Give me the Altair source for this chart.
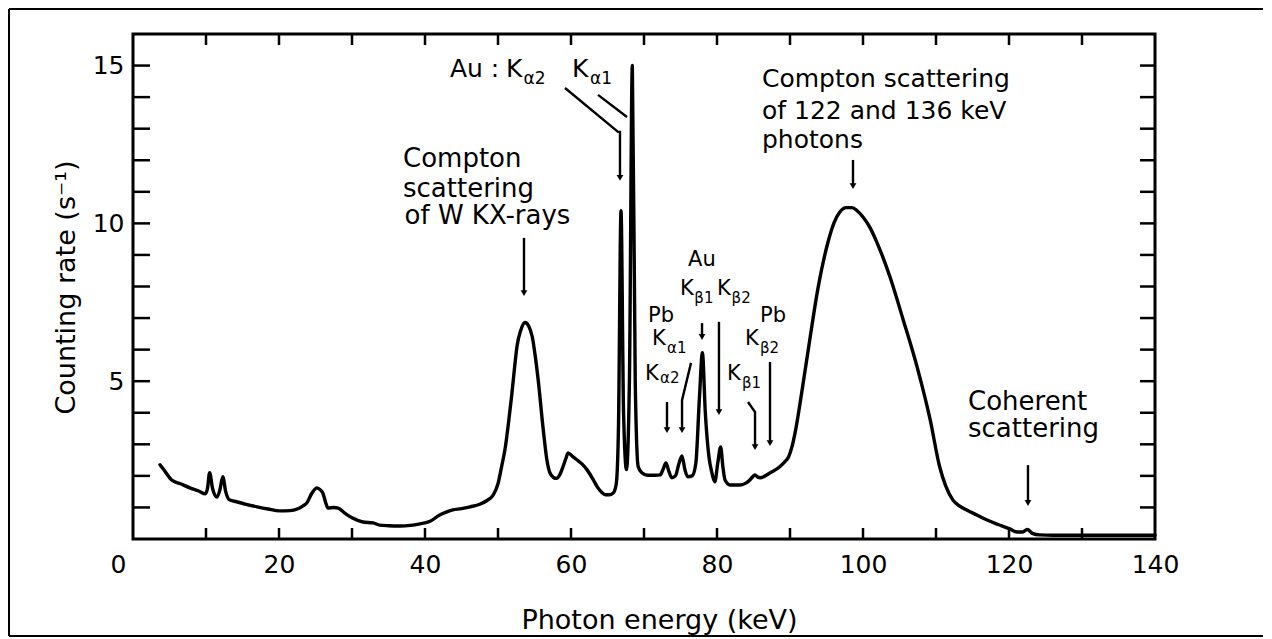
import altair as alt
import pandas as pd

# ---------------- spectrum ----------------
energy = [3.7, 4.2, 5.3, 6.5, 7.8, 9.0, 9.9, 10.2, 10.5, 10.9, 11.5, 11.9, 12.3, 12.7, 13.2,
          14.2, 15.5, 17.0, 18.5, 20.1, 21.5, 22.5, 23.3, 23.8, 24.5, 25.2, 25.7, 26.0, 26.4,
          26.7, 27.5, 28.1, 29.0, 30.0, 31.5, 32.9, 33.8, 35.0, 36.6, 38.0, 39.3, 40.7, 42.0,
          43.0, 43.8, 45.0, 46.2, 47.5, 48.5, 49.3, 50.0, 50.5, 51.0, 51.5, 51.9, 52.3, 52.6,
          53.1, 53.7, 54.2, 54.7, 55.1, 55.5, 56.2, 56.7, 57.1, 57.6, 58.0, 58.5, 58.9, 59.3,
          59.6, 60.2, 60.8, 61.5, 62.2, 63.0, 63.6, 64.2, 64.7, 65.3, 65.8, 66.2, 66.5, 66.85,
          67.2, 67.6, 68.0, 68.4, 68.8, 69.2, 69.7, 70.5, 71.5, 72.2, 72.6, 73.0, 73.4, 73.8,
          74.3, 74.8, 75.2, 75.6, 76.0, 76.6, 77.1, 77.6, 78.0, 78.4, 78.9, 79.3, 79.7, 80.1,
          80.5, 80.8, 81.1, 81.8, 83.2, 84.0, 84.5, 85.0, 85.2, 85.6, 85.9, 87.3, 88.6, 89.3,
          89.8, 90.3, 90.7, 91.6, 92.7, 93.8, 95.2, 96.0, 96.8, 97.7, 98.5, 99.2, 100.0, 101.0,
          101.9, 103.7, 105.5, 107.4, 109.2, 110.5, 111.3, 112.3, 113.2, 114.2, 115.6, 117.0,
          118.5, 120.1, 121.1, 121.8, 122.5, 123.2, 124.2, 126.0, 130.0, 135.0, 140.0]
rate = [2.35, 2.2, 1.87, 1.75, 1.62, 1.52, 1.43, 1.6, 2.1, 1.6, 1.33, 1.55, 1.97, 1.5, 1.24,
        1.18, 1.10, 1.02, 0.95, 0.89, 0.90, 0.95, 1.05, 1.14, 1.45, 1.62, 1.55, 1.46, 1.15,
        0.98, 1.00, 0.98, 0.82, 0.67, 0.54, 0.51, 0.44, 0.42, 0.41, 0.43, 0.48, 0.56, 0.76,
        0.86, 0.92, 0.96, 1.02, 1.10, 1.22, 1.38, 1.75, 2.3, 2.9, 3.8, 4.6, 5.5, 6.1,
        6.6, 6.86, 6.75, 6.4, 5.8, 5.05, 3.46, 2.5, 2.1, 1.95, 1.92, 2.05, 2.29, 2.55,
        2.73, 2.62, 2.51, 2.38, 2.19, 1.9, 1.65, 1.48, 1.40, 1.40, 1.46, 1.75, 3.5, 10.4,
        4.0, 2.2, 5.0, 15.0, 5.0, 2.3, 2.1, 2.02, 2.02, 2.03, 2.2, 2.41, 2.15, 1.94,
        2.0, 2.4, 2.63, 2.2, 1.97, 2.0, 2.4, 4.5, 5.9, 4.0, 2.6, 2.1, 1.81, 2.4,
        2.92, 2.3, 1.87, 1.71, 1.71, 1.78, 1.87, 2.0, 2.03, 1.96, 1.94, 2.1, 2.29, 2.45,
        2.6, 2.95, 3.37, 4.63, 6.3, 7.9, 9.4, 10.0, 10.35, 10.5, 10.5, 10.4, 10.2, 9.85,
        9.4, 8.3, 6.95, 5.46, 3.78, 2.29, 1.7, 1.24, 1.05, 0.92, 0.76, 0.60,
        0.46, 0.32, 0.22, 0.22, 0.30, 0.18, 0.13, 0.12, 0.12, 0.12, 0.12]

# ---------------- axes ----------------
x_label_values = [0, 20, 40, 60, 80, 100, 120, 140]
x_tick_values = [10, 20, 30, 40, 50, 60, 70, 80, 90, 100, 110, 120, 130]
y_label_values = [5, 10, 15]
y_tick_values = list(range(1, 16))

# ---------------- annotations (data coordinates) ----------------
big_text = ["Compton", "scattering", "of W KX-rays", "Coherent", "scattering"]
big_x = [36.99, 36.99, 37.2, 114.38, 114.38]
big_y = [11.79, 10.84, 9.98, 4.09, 3.23]

top_text = ["Compton scattering", "of 122 and 136 keV", "photons"]
top_x = [86.16, 86.16, 86.16]
top_y = [14.32, 13.31, 12.39]

mid_text = ["Au", ":", "K", "K"]
mid_x = [43.42, 49.0, 51.1, 60.14]
mid_y = [14.64, 14.64, 14.64, 14.64]

mid_sub_text = ["α2", "α1"]
mid_sub_x = [53.5, 62.6]
mid_sub_y = [14.42, 14.42]

small_text = ["Au", "K", "K", "Pb", "K", "K", "Pb", "K", "K"]
small_x = [76.03, 74.93, 80.0, 70.55, 71.10, 70.14, 85.89, 83.84, 81.37]
small_y = [8.65, 7.73, 7.73, 6.88, 6.15, 5.04, 6.88, 6.15, 5.04]

small_sub_text = ["β1", "β2", "α1", "α2", "β2", "β1"]
small_sub_x = [76.9, 82.0, 73.15, 72.2, 85.89, 83.42]
small_sub_y = [7.48, 7.48, 5.90, 4.95, 5.90, 4.80]

arrow_id = ["a1", "a1", "a2", "a2", "a2", "a2", "a3", "a3", "a4", "a4", "a5", "a5",
            "a6", "a6", "a7", "a7", "a7", "a8", "a8", "a9", "a9",
            "a10", "a10", "a10", "a11", "a11"]
arrow_x = [53.56, 53.56, 59.18, 66.44, 66.71, 66.71, 63.70, 67.67, 98.63, 98.63, 122.6, 122.6,
           73.15, 73.15, 76.44, 75.21, 75.21, 77.95, 77.95, 80.27, 80.27,
           84.25, 85.21, 85.21, 87.26, 87.26]
arrow_y = [9.54, 7.79, 14.29, 12.90, 12.90, 11.44, 14.07, 13.37, 12.01, 11.18, 2.34, 1.14,
           4.34, 3.45, 5.58, 4.40, 3.45, 6.84, 6.40, 6.88, 4.02,
           4.34, 4.02, 2.91, 5.61, 3.04]

head_x = [53.56, 66.71, 98.63, 122.6, 73.15, 75.21, 77.95, 80.27, 85.21, 87.26]
head_y = [7.79, 11.44, 11.18, 1.14, 3.45, 3.45, 6.40, 4.02, 2.91, 3.04]

# ---------------- chart ----------------
FONT = "DejaVu Sans"
W, H = 1022, 505

xs = alt.Scale(domain=[0, 140], nice=False, zero=False)
ys = alt.Scale(domain=[0, 16], nice=False, zero=False)

spec_df = pd.DataFrame({"E": energy, "R": rate})

curve = alt.Chart(spec_df).mark_line(
    color="black", strokeWidth=3.4, interpolate="monotone", strokeJoin="round", strokeCap="round"
).encode(
    x=alt.X("E:Q", scale=xs, axis=alt.Axis(
        values=x_label_values, ticks=False, domain=False, grid=False,
        labelFlush=False, labelOverlap=False,
        labelFont=FONT, labelFontSize=25, labelColor="black", labelPadding=13,
        labelOffset={"condition": {"test": "datum.value === 0", "value": -15}, "value": 0},
        title="Photon energy (keV)", titleFont=FONT, titleFontSize=27,
        titleFontWeight="normal", titleColor="black",
        titleX=526, titleY=89, titleAlign="center", titleBaseline="alphabetic")),
    y=alt.Y("R:Q", scale=ys, axis=alt.Axis(
        values=y_label_values, ticks=False, domain=False, grid=False,
        labelFlush=False, labelOverlap=False,
        labelFont=FONT, labelFontSize=25, labelColor="black", labelPadding=9,
        title="Counting rate (s⁻¹)", titleFont=FONT, titleFontSize=27,
        titleFontWeight="normal", titleColor="black", titleAngle=270,
        titleX=-59, titleY=253, titleAlign="center", titleBaseline="alphabetic")),
)

xt = pd.DataFrame({"E": x_tick_values})
yt = pd.DataFrame({"R": y_tick_values})

bottom_ticks = alt.Chart(xt).mark_rule(color="black", strokeWidth=2.5).encode(
    x="E:Q", y=alt.value(H), y2=alt.value(H - 11))
top_ticks = alt.Chart(xt).mark_rule(color="black", strokeWidth=2.5).encode(
    x="E:Q", y=alt.value(0), y2=alt.value(11))
left_ticks = alt.Chart(yt).mark_rule(color="black", strokeWidth=2.5).encode(
    y="R:Q", x=alt.value(0), x2=alt.value(17))
right_ticks = alt.Chart(yt).mark_rule(color="black", strokeWidth=2.5).encode(
    y="R:Q", x=alt.value(W - 15), x2=alt.value(W))

arrows = alt.Chart(pd.DataFrame({
    "id": arrow_id, "E": arrow_x, "R": arrow_y, "seq": list(range(len(arrow_x)))
})).mark_line(color="black", strokeWidth=2.4).encode(
    x="E:Q", y="R:Q", detail="id:N", order=alt.Order("seq:Q"))

heads = alt.Chart(pd.DataFrame({"E": head_x, "R": head_y})).mark_point(
    shape="triangle-down", filled=True, color="black", size=45, opacity=1
).encode(x="E:Q", y="R:Q")


def text_layer(texts, xv, yv, size):
    return alt.Chart(pd.DataFrame({"t": texts, "E": xv, "R": yv})).mark_text(
        font=FONT, fontSize=size, color="black", align="left", baseline="alphabetic"
    ).encode(x="E:Q", y="R:Q", text="t:N")


big = text_layer(big_text, big_x, big_y, 26)
top_block = text_layer(top_text, top_x, top_y, 25)
mid = text_layer(mid_text, mid_x, mid_y, 25)
mid_sub = text_layer(mid_sub_text, mid_sub_x, mid_sub_y, 17)
small = text_layer(small_text, small_x, small_y, 21)
small_sub = text_layer(small_sub_text, small_sub_x, small_sub_y, 15)

one = pd.DataFrame({"a": [0]})
frame_left = alt.Chart(one).mark_rule(color="black", strokeWidth=2).encode(
    x=alt.value(-124), y=alt.value(-25), y2=alt.value(602))
frame_top = alt.Chart(one).mark_rule(color="black", strokeWidth=2).encode(
    x=alt.value(-124), x2=alt.value(W + 300), y=alt.value(-25))
frame_bottom = alt.Chart(one).mark_rule(color="black", strokeWidth=2).encode(
    x=alt.value(-124), x2=alt.value(W + 300), y=alt.value(602))

chart = alt.layer(
    curve, frame_left, frame_top, frame_bottom,
    bottom_ticks, top_ticks, left_ticks, right_ticks,
    arrows, heads, big, top_block, mid, mid_sub, small, small_sub
).properties(
    width=W, height=H,
    autosize=alt.AutoSizeParams(type="none"),
    padding={"left": 125, "top": 26, "right": 108, "bottom": 100},
    background="white",
).configure_view(stroke="black", strokeWidth=3)

chart.save("out.html", embed_options={"renderer": "svg", "actions": False})
